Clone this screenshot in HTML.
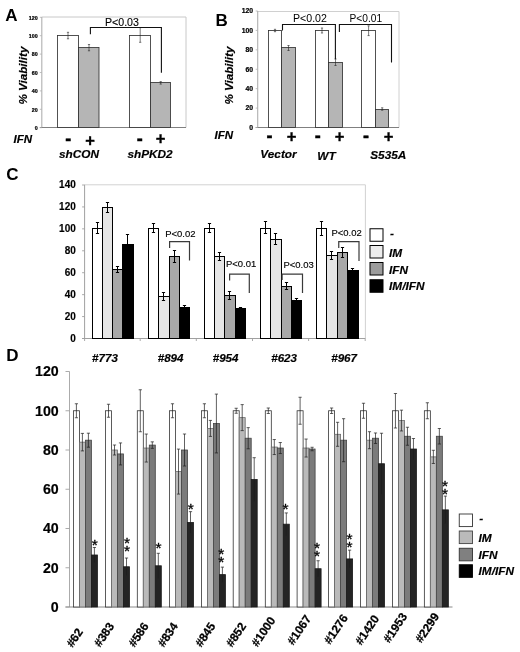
<!DOCTYPE html>
<html lang="en"><head><meta charset="utf-8"><title>Figure</title>
<style>html,body{margin:0;padding:0;background:#fff;}svg{display:block;filter:grayscale(1) blur(0.4px);}svg text{font-family:"Liberation Sans", Arial, Helvetica, sans-serif;}svg text[font-style="italic"]{stroke:#000;stroke-width:0.18px;}</style></head><body>
<svg width="520" height="652" viewBox="0 0 520 652">
<rect x="0" y="0" width="520" height="652" fill="#fff"/>
<polyline points="41.8,17 186,17 186,127.5" fill="none" stroke="#c8c8c8" stroke-width="1"/>
<line x1="41.8" y1="17" x2="41.8" y2="127.5" stroke="#b0b0b0" stroke-width="1.1"/>
<line x1="39.8" y1="127.5" x2="186" y2="127.5" stroke="#808080" stroke-width="1"/>
<line x1="39.8" y1="127.7" x2="41.8" y2="127.7" stroke="#b0b0b0" stroke-width="0.8"/>
<text x="37.6" y="129.9" font-size="5.3" font-weight="bold" font-style="normal" text-anchor="end" fill="#000" stroke="#000" stroke-width="0.22">0</text>
<line x1="39.8" y1="109.30000000000001" x2="41.8" y2="109.30000000000001" stroke="#b0b0b0" stroke-width="0.8"/>
<text x="37.6" y="111.50000000000001" font-size="5.3" font-weight="bold" font-style="normal" text-anchor="end" fill="#000" stroke="#000" stroke-width="0.22">20</text>
<line x1="39.8" y1="90.9" x2="41.8" y2="90.9" stroke="#b0b0b0" stroke-width="0.8"/>
<text x="37.6" y="93.10000000000001" font-size="5.3" font-weight="bold" font-style="normal" text-anchor="end" fill="#000" stroke="#000" stroke-width="0.22">40</text>
<line x1="39.8" y1="72.5" x2="41.8" y2="72.5" stroke="#b0b0b0" stroke-width="0.8"/>
<text x="37.6" y="74.7" font-size="5.3" font-weight="bold" font-style="normal" text-anchor="end" fill="#000" stroke="#000" stroke-width="0.22">60</text>
<line x1="39.8" y1="54.10000000000001" x2="41.8" y2="54.10000000000001" stroke="#b0b0b0" stroke-width="0.8"/>
<text x="37.6" y="56.30000000000001" font-size="5.3" font-weight="bold" font-style="normal" text-anchor="end" fill="#000" stroke="#000" stroke-width="0.22">80</text>
<line x1="39.8" y1="35.7" x2="41.8" y2="35.7" stroke="#b0b0b0" stroke-width="0.8"/>
<text x="37.6" y="37.900000000000006" font-size="5.3" font-weight="bold" font-style="normal" text-anchor="end" fill="#000" stroke="#000" stroke-width="0.22">100</text>
<line x1="39.8" y1="17.299999999999997" x2="41.8" y2="17.299999999999997" stroke="#b0b0b0" stroke-width="0.8"/>
<text x="37.6" y="19.499999999999996" font-size="5.3" font-weight="bold" font-style="normal" text-anchor="end" fill="#000" stroke="#000" stroke-width="0.22">120</text>
<rect x="57.50" y="35.50" width="21.00" height="92.00" fill="#fff" stroke="#333" stroke-width="0.85"/>
<rect x="78.50" y="47.50" width="20.50" height="80.00" fill="#b5b5b5" stroke="#333" stroke-width="0.85"/>
<rect x="129.50" y="35.50" width="21.00" height="92.00" fill="#fff" stroke="#333" stroke-width="0.85"/>
<rect x="150.50" y="82.50" width="20.00" height="45.00" fill="#b5b5b5" stroke="#333" stroke-width="0.85"/>
<line x1="68" y1="32.3" x2="68" y2="38.8" stroke="#222" stroke-width="0.6"/>
<line x1="66.9" y1="32.3" x2="69.1" y2="32.3" stroke="#222" stroke-width="0.6"/>
<line x1="66.9" y1="38.8" x2="69.1" y2="38.8" stroke="#222" stroke-width="0.6"/>
<line x1="89" y1="44.5" x2="89" y2="50.8" stroke="#222" stroke-width="0.6"/>
<line x1="87.9" y1="44.5" x2="90.1" y2="44.5" stroke="#222" stroke-width="0.6"/>
<line x1="87.9" y1="50.8" x2="90.1" y2="50.8" stroke="#222" stroke-width="0.6"/>
<line x1="140.2" y1="27.6" x2="140.2" y2="42.3" stroke="#222" stroke-width="0.6"/>
<line x1="139.1" y1="27.6" x2="141.29999999999998" y2="27.6" stroke="#222" stroke-width="0.6"/>
<line x1="139.1" y1="42.3" x2="141.29999999999998" y2="42.3" stroke="#222" stroke-width="0.6"/>
<line x1="160.7" y1="81.6" x2="160.7" y2="84.1" stroke="#222" stroke-width="0.6"/>
<line x1="159.6" y1="81.6" x2="161.79999999999998" y2="81.6" stroke="#222" stroke-width="0.6"/>
<line x1="159.6" y1="84.1" x2="161.79999999999998" y2="84.1" stroke="#222" stroke-width="0.6"/>
<polyline points="90.4,34.3 90.4,27.5 161.4,27.5 161.4,72.8" fill="none" stroke="#111" stroke-width="1.1"/>
<text x="105" y="25.9" font-size="10.6" font-weight="normal" font-style="normal" text-anchor="start" fill="#000" stroke="#000" stroke-width="0.12">P&lt;0.03</text>
<text transform="translate(26.9,75.5) rotate(-90)" font-size="11.7" font-weight="bold" font-style="italic" text-anchor="middle" stroke="#000" stroke-width="0.18">% Viability</text>
<text x="13.6" y="143" font-size="11.5" font-weight="bold" font-style="italic" text-anchor="start" fill="#000">IFN</text>
<text x="68.25" y="145.0" font-size="18" font-weight="bold" font-style="normal" text-anchor="middle" fill="#000" stroke="#000" stroke-width="0.45">-</text>
<text x="90" y="145.55" font-size="16.5" font-weight="bold" font-style="normal" text-anchor="middle" fill="#000" stroke="#000" stroke-width="0.35">+</text>
<text x="139.8" y="145.3" font-size="18" font-weight="bold" font-style="normal" text-anchor="middle" fill="#000" stroke="#000" stroke-width="0.45">-</text>
<text x="160.6" y="144.45" font-size="16.5" font-weight="bold" font-style="normal" text-anchor="middle" fill="#000" stroke="#000" stroke-width="0.35">+</text>
<text x="79" y="158" font-size="11.8" font-weight="bold" font-style="italic" text-anchor="middle" fill="#000">shCON</text>
<text x="150" y="158" font-size="11.8" font-weight="bold" font-style="italic" text-anchor="middle" fill="#000">shPKD2</text>
<text x="5.2" y="21.2" font-size="17" font-weight="bold" font-style="normal" text-anchor="start" fill="#000">A</text>
<polyline points="257.7,11.5 399,11.5 399,127.5" fill="none" stroke="#d0d0d0" stroke-width="1"/>
<line x1="257.7" y1="11" x2="257.7" y2="127.5" stroke="#b0b0b0" stroke-width="1.1"/>
<line x1="255.7" y1="127.5" x2="399" y2="127.5" stroke="#808080" stroke-width="1"/>
<line x1="255.7" y1="127.5" x2="257.7" y2="127.5" stroke="#b0b0b0" stroke-width="0.8"/>
<text x="253.0" y="129.9" font-size="6.8" font-weight="bold" font-style="normal" text-anchor="end" fill="#000" stroke="#000" stroke-width="0.22">0</text>
<line x1="255.7" y1="108.08333333333333" x2="257.7" y2="108.08333333333333" stroke="#b0b0b0" stroke-width="0.8"/>
<text x="253.0" y="110.48333333333333" font-size="6.8" font-weight="bold" font-style="normal" text-anchor="end" fill="#000" stroke="#000" stroke-width="0.22">20</text>
<line x1="255.7" y1="88.66666666666666" x2="257.7" y2="88.66666666666666" stroke="#b0b0b0" stroke-width="0.8"/>
<text x="253.0" y="91.06666666666666" font-size="6.8" font-weight="bold" font-style="normal" text-anchor="end" fill="#000" stroke="#000" stroke-width="0.22">40</text>
<line x1="255.7" y1="69.25" x2="257.7" y2="69.25" stroke="#b0b0b0" stroke-width="0.8"/>
<text x="253.0" y="71.65" font-size="6.8" font-weight="bold" font-style="normal" text-anchor="end" fill="#000" stroke="#000" stroke-width="0.22">60</text>
<line x1="255.7" y1="49.83333333333333" x2="257.7" y2="49.83333333333333" stroke="#b0b0b0" stroke-width="0.8"/>
<text x="253.0" y="52.23333333333333" font-size="6.8" font-weight="bold" font-style="normal" text-anchor="end" fill="#000" stroke="#000" stroke-width="0.22">80</text>
<line x1="255.7" y1="30.41666666666667" x2="257.7" y2="30.41666666666667" stroke="#b0b0b0" stroke-width="0.8"/>
<text x="253.0" y="32.81666666666667" font-size="6.8" font-weight="bold" font-style="normal" text-anchor="end" fill="#000" stroke="#000" stroke-width="0.22">100</text>
<line x1="255.7" y1="11.0" x2="257.7" y2="11.0" stroke="#b0b0b0" stroke-width="0.8"/>
<text x="253.0" y="13.4" font-size="6.8" font-weight="bold" font-style="normal" text-anchor="end" fill="#000" stroke="#000" stroke-width="0.22">120</text>
<rect x="268.50" y="30.50" width="13.00" height="97.00" fill="#fff" stroke="#333" stroke-width="0.85"/>
<rect x="281.50" y="47.50" width="14.00" height="80.00" fill="#b5b5b5" stroke="#333" stroke-width="0.85"/>
<rect x="315.50" y="30.50" width="13.00" height="97.00" fill="#fff" stroke="#333" stroke-width="0.85"/>
<rect x="328.50" y="62.50" width="14.00" height="65.00" fill="#b5b5b5" stroke="#333" stroke-width="0.85"/>
<rect x="361.50" y="30.50" width="14.00" height="97.00" fill="#fff" stroke="#333" stroke-width="0.85"/>
<rect x="375.50" y="109.50" width="13.00" height="18.00" fill="#b5b5b5" stroke="#333" stroke-width="0.85"/>
<line x1="275" y1="29.3" x2="275" y2="31.7" stroke="#222" stroke-width="0.6"/>
<line x1="273.9" y1="29.3" x2="276.1" y2="29.3" stroke="#222" stroke-width="0.6"/>
<line x1="273.9" y1="31.7" x2="276.1" y2="31.7" stroke="#222" stroke-width="0.6"/>
<line x1="288.5" y1="45.5" x2="288.5" y2="50.5" stroke="#222" stroke-width="0.6"/>
<line x1="287.4" y1="45.5" x2="289.6" y2="45.5" stroke="#222" stroke-width="0.6"/>
<line x1="287.4" y1="50.5" x2="289.6" y2="50.5" stroke="#222" stroke-width="0.6"/>
<line x1="322" y1="28" x2="322" y2="33" stroke="#222" stroke-width="0.6"/>
<line x1="320.9" y1="28" x2="323.1" y2="28" stroke="#222" stroke-width="0.6"/>
<line x1="320.9" y1="33" x2="323.1" y2="33" stroke="#222" stroke-width="0.6"/>
<line x1="335.5" y1="59" x2="335.5" y2="65.5" stroke="#222" stroke-width="0.6"/>
<line x1="334.4" y1="59" x2="336.6" y2="59" stroke="#222" stroke-width="0.6"/>
<line x1="334.4" y1="65.5" x2="336.6" y2="65.5" stroke="#222" stroke-width="0.6"/>
<line x1="368.6" y1="25.8" x2="368.6" y2="35.6" stroke="#222" stroke-width="0.6"/>
<line x1="367.5" y1="25.8" x2="369.70000000000005" y2="25.8" stroke="#222" stroke-width="0.6"/>
<line x1="367.5" y1="35.6" x2="369.70000000000005" y2="35.6" stroke="#222" stroke-width="0.6"/>
<line x1="382.2" y1="107.8" x2="382.2" y2="110.2" stroke="#222" stroke-width="0.6"/>
<line x1="381.09999999999997" y1="107.8" x2="383.3" y2="107.8" stroke="#222" stroke-width="0.6"/>
<line x1="381.09999999999997" y1="110.2" x2="383.3" y2="110.2" stroke="#222" stroke-width="0.6"/>
<polyline points="282.5,30.5 282.5,24.5 335.4,24.5 335.4,59" fill="none" stroke="#111" stroke-width="1.1"/>
<polyline points="339.4,32 339.4,24.5 391.5,24.5 391.5,62.5" fill="none" stroke="#111" stroke-width="1.1"/>
<text x="293" y="21.8" font-size="10.6" font-weight="normal" font-style="normal" text-anchor="start" fill="#000">P&lt;0.02</text>
<text x="349.5" y="21.8" font-size="10.6" font-weight="normal" font-style="normal" text-anchor="start" fill="#000" textLength="32.6" lengthAdjust="spacingAndGlyphs">P&lt;0.01</text>
<text transform="translate(232.9,75.5) rotate(-90)" font-size="11.7" font-weight="bold" font-style="italic" text-anchor="middle" stroke="#000" stroke-width="0.18">% Viability</text>
<text x="214.6" y="139" font-size="11.5" font-weight="bold" font-style="italic" text-anchor="start" fill="#000">IFN</text>
<text x="269.6" y="141.5" font-size="18" font-weight="bold" font-style="normal" text-anchor="middle" fill="#000" stroke="#000" stroke-width="0.45">-</text>
<text x="317.8" y="141.5" font-size="18" font-weight="bold" font-style="normal" text-anchor="middle" fill="#000" stroke="#000" stroke-width="0.45">-</text>
<text x="366" y="141.5" font-size="18" font-weight="bold" font-style="normal" text-anchor="middle" fill="#000" stroke="#000" stroke-width="0.45">-</text>
<text x="291.5" y="141.55" font-size="16.5" font-weight="bold" font-style="normal" text-anchor="middle" fill="#000" stroke="#000" stroke-width="0.35">+</text>
<text x="339.5" y="141.55" font-size="16.5" font-weight="bold" font-style="normal" text-anchor="middle" fill="#000" stroke="#000" stroke-width="0.35">+</text>
<text x="388.5" y="141.55" font-size="16.5" font-weight="bold" font-style="normal" text-anchor="middle" fill="#000" stroke="#000" stroke-width="0.35">+</text>
<text x="278.5" y="158" font-size="11.8" font-weight="bold" font-style="italic" text-anchor="middle" fill="#000">Vector</text>
<text x="326.5" y="160.2" font-size="11.8" font-weight="bold" font-style="italic" text-anchor="middle" fill="#000">WT</text>
<text x="388.3" y="159" font-size="11.8" font-weight="bold" font-style="italic" text-anchor="middle" fill="#000">S535A</text>
<text x="215.6" y="25.6" font-size="17" font-weight="bold" font-style="normal" text-anchor="start" fill="#000">B</text>
<polyline points="84.6,184.8 365.4,184.8 365.4,338.5" fill="none" stroke="#d2d2d2" stroke-width="1"/>
<line x1="84.6" y1="184.8" x2="84.6" y2="338.5" stroke="#a0a0a0" stroke-width="1"/>
<line x1="82.1" y1="338.5" x2="365.4" y2="338.5" stroke="#a0a0a0" stroke-width="1"/>
<line x1="84.6" y1="338.5" x2="84.6" y2="341.0" stroke="#a0a0a0" stroke-width="0.9"/>
<line x1="140.2" y1="338.5" x2="140.2" y2="341.0" stroke="#a0a0a0" stroke-width="0.9"/>
<line x1="196.3" y1="338.5" x2="196.3" y2="341.0" stroke="#a0a0a0" stroke-width="0.9"/>
<line x1="252.5" y1="338.5" x2="252.5" y2="341.0" stroke="#a0a0a0" stroke-width="0.9"/>
<line x1="308.6" y1="338.5" x2="308.6" y2="341.0" stroke="#a0a0a0" stroke-width="0.9"/>
<line x1="365.2" y1="338.5" x2="365.2" y2="341.0" stroke="#a0a0a0" stroke-width="0.9"/>
<line x1="82.1" y1="338.5" x2="84.6" y2="338.5" stroke="#a0a0a0" stroke-width="0.9"/>
<text x="75.8" y="341.6" font-size="10" font-weight="bold" font-style="normal" text-anchor="end" fill="#000" stroke="#000" stroke-width="0.15">0</text>
<line x1="82.1" y1="316.57142857142856" x2="84.6" y2="316.57142857142856" stroke="#a0a0a0" stroke-width="0.9"/>
<text x="75.8" y="319.6714285714286" font-size="10" font-weight="bold" font-style="normal" text-anchor="end" fill="#000" stroke="#000" stroke-width="0.15">20</text>
<line x1="82.1" y1="294.64285714285717" x2="84.6" y2="294.64285714285717" stroke="#a0a0a0" stroke-width="0.9"/>
<text x="75.8" y="297.7428571428572" font-size="10" font-weight="bold" font-style="normal" text-anchor="end" fill="#000" stroke="#000" stroke-width="0.15">40</text>
<line x1="82.1" y1="272.7142857142857" x2="84.6" y2="272.7142857142857" stroke="#a0a0a0" stroke-width="0.9"/>
<text x="75.8" y="275.81428571428575" font-size="10" font-weight="bold" font-style="normal" text-anchor="end" fill="#000" stroke="#000" stroke-width="0.15">60</text>
<line x1="82.1" y1="250.78571428571428" x2="84.6" y2="250.78571428571428" stroke="#a0a0a0" stroke-width="0.9"/>
<text x="75.8" y="253.88571428571427" font-size="10" font-weight="bold" font-style="normal" text-anchor="end" fill="#000" stroke="#000" stroke-width="0.15">80</text>
<line x1="82.1" y1="228.85714285714286" x2="84.6" y2="228.85714285714286" stroke="#a0a0a0" stroke-width="0.9"/>
<text x="75.8" y="231.95714285714286" font-size="10" font-weight="bold" font-style="normal" text-anchor="end" fill="#000" stroke="#000" stroke-width="0.15">100</text>
<line x1="82.1" y1="206.92857142857142" x2="84.6" y2="206.92857142857142" stroke="#a0a0a0" stroke-width="0.9"/>
<text x="75.8" y="210.0285714285714" font-size="10" font-weight="bold" font-style="normal" text-anchor="end" fill="#000" stroke="#000" stroke-width="0.15">120</text>
<line x1="82.1" y1="185.0" x2="84.6" y2="185.0" stroke="#a0a0a0" stroke-width="0.9"/>
<text x="75.8" y="188.1" font-size="10" font-weight="bold" font-style="normal" text-anchor="end" fill="#000" stroke="#000" stroke-width="0.15">140</text>
<rect x="92.50" y="228.50" width="10.00" height="110.00" fill="#fff" stroke="#000" stroke-width="1.0"/>
<rect x="102.50" y="207.50" width="10.00" height="131.00" fill="#e6e6e6" stroke="#000" stroke-width="1.0"/>
<rect x="112.50" y="269.50" width="10.00" height="69.00" fill="#a8a8a8" stroke="#000" stroke-width="1.0"/>
<rect x="122.50" y="244.50" width="11.00" height="94.00" fill="#000" stroke="#000" stroke-width="1.0"/>
<line x1="97.5" y1="223.0" x2="97.5" y2="234.0" stroke="#000" stroke-width="1.0"/>
<line x1="95.9" y1="222.5" x2="99.1" y2="222.5" stroke="#000" stroke-width="1.0"/>
<line x1="95.9" y1="233.5" x2="99.1" y2="233.5" stroke="#000" stroke-width="1.0"/>
<line x1="107.5" y1="202.5" x2="107.5" y2="212.5" stroke="#000" stroke-width="1.0"/>
<line x1="105.9" y1="202.5" x2="109.1" y2="202.5" stroke="#000" stroke-width="1.0"/>
<line x1="105.9" y1="212.5" x2="109.1" y2="212.5" stroke="#000" stroke-width="1.0"/>
<line x1="117.5" y1="266.5" x2="117.5" y2="272.5" stroke="#000" stroke-width="1.0"/>
<line x1="115.9" y1="266.5" x2="119.1" y2="266.5" stroke="#000" stroke-width="1.0"/>
<line x1="115.9" y1="272.5" x2="119.1" y2="272.5" stroke="#000" stroke-width="1.0"/>
<line x1="127.5" y1="235.0" x2="127.5" y2="244.5" stroke="#000" stroke-width="1.0"/>
<line x1="125.9" y1="234.5" x2="129.1" y2="234.5" stroke="#000" stroke-width="1.0"/>
<rect x="148.50" y="228.50" width="10.00" height="110.00" fill="#fff" stroke="#000" stroke-width="1.0"/>
<rect x="158.50" y="296.50" width="11.00" height="42.00" fill="#e6e6e6" stroke="#000" stroke-width="1.0"/>
<rect x="169.50" y="256.50" width="10.00" height="82.00" fill="#a8a8a8" stroke="#000" stroke-width="1.0"/>
<rect x="179.50" y="307.50" width="10.00" height="31.00" fill="#000" stroke="#000" stroke-width="1.0"/>
<line x1="153.5" y1="224.0" x2="153.5" y2="233.0" stroke="#000" stroke-width="1.0"/>
<line x1="151.9" y1="223.5" x2="155.1" y2="223.5" stroke="#000" stroke-width="1.0"/>
<line x1="151.9" y1="232.5" x2="155.1" y2="232.5" stroke="#000" stroke-width="1.0"/>
<line x1="163.5" y1="292.8" x2="163.5" y2="300.5" stroke="#000" stroke-width="1.0"/>
<line x1="161.9" y1="292.5" x2="165.1" y2="292.5" stroke="#000" stroke-width="1.0"/>
<line x1="161.9" y1="300.5" x2="165.1" y2="300.5" stroke="#000" stroke-width="1.0"/>
<line x1="174.5" y1="250.5" x2="174.5" y2="262.5" stroke="#000" stroke-width="1.0"/>
<line x1="172.9" y1="250.5" x2="176.1" y2="250.5" stroke="#000" stroke-width="1.0"/>
<line x1="172.9" y1="262.5" x2="176.1" y2="262.5" stroke="#000" stroke-width="1.0"/>
<line x1="184.5" y1="306.0" x2="184.5" y2="307.5" stroke="#000" stroke-width="1.0"/>
<line x1="182.9" y1="305.5" x2="186.1" y2="305.5" stroke="#000" stroke-width="1.0"/>
<rect x="204.50" y="228.50" width="10.00" height="110.00" fill="#fff" stroke="#000" stroke-width="1.0"/>
<rect x="214.50" y="256.50" width="10.00" height="82.00" fill="#e6e6e6" stroke="#000" stroke-width="1.0"/>
<rect x="224.50" y="295.50" width="11.00" height="43.00" fill="#a8a8a8" stroke="#000" stroke-width="1.0"/>
<rect x="235.50" y="308.50" width="10.00" height="30.00" fill="#000" stroke="#000" stroke-width="1.0"/>
<line x1="209.5" y1="224.0" x2="209.5" y2="233.0" stroke="#000" stroke-width="1.0"/>
<line x1="207.9" y1="223.5" x2="211.1" y2="223.5" stroke="#000" stroke-width="1.0"/>
<line x1="207.9" y1="232.5" x2="211.1" y2="232.5" stroke="#000" stroke-width="1.0"/>
<line x1="219.5" y1="252.8" x2="219.5" y2="260.8" stroke="#000" stroke-width="1.0"/>
<line x1="217.9" y1="252.5" x2="221.1" y2="252.5" stroke="#000" stroke-width="1.0"/>
<line x1="217.9" y1="260.5" x2="221.1" y2="260.5" stroke="#000" stroke-width="1.0"/>
<line x1="229.5" y1="291.2" x2="229.5" y2="299.5" stroke="#000" stroke-width="1.0"/>
<line x1="227.9" y1="291.5" x2="231.1" y2="291.5" stroke="#000" stroke-width="1.0"/>
<line x1="227.9" y1="299.5" x2="231.1" y2="299.5" stroke="#000" stroke-width="1.0"/>
<line x1="240.5" y1="307.5" x2="240.5" y2="308.5" stroke="#000" stroke-width="1.0"/>
<line x1="238.9" y1="307.5" x2="242.1" y2="307.5" stroke="#000" stroke-width="1.0"/>
<rect x="260.50" y="228.50" width="10.00" height="110.00" fill="#fff" stroke="#000" stroke-width="1.0"/>
<rect x="270.50" y="239.50" width="11.00" height="99.00" fill="#e6e6e6" stroke="#000" stroke-width="1.0"/>
<rect x="281.50" y="286.50" width="10.00" height="52.00" fill="#a8a8a8" stroke="#000" stroke-width="1.0"/>
<rect x="291.50" y="300.50" width="10.00" height="38.00" fill="#000" stroke="#000" stroke-width="1.0"/>
<line x1="265.5" y1="222.0" x2="265.5" y2="234.0" stroke="#000" stroke-width="1.0"/>
<line x1="263.9" y1="221.5" x2="267.1" y2="221.5" stroke="#000" stroke-width="1.0"/>
<line x1="263.9" y1="233.5" x2="267.1" y2="233.5" stroke="#000" stroke-width="1.0"/>
<line x1="275.5" y1="234.0" x2="275.5" y2="244.5" stroke="#000" stroke-width="1.0"/>
<line x1="273.9" y1="233.5" x2="277.1" y2="233.5" stroke="#000" stroke-width="1.0"/>
<line x1="273.9" y1="244.5" x2="277.1" y2="244.5" stroke="#000" stroke-width="1.0"/>
<line x1="286.5" y1="283.0" x2="286.5" y2="290.0" stroke="#000" stroke-width="1.0"/>
<line x1="284.9" y1="282.5" x2="288.1" y2="282.5" stroke="#000" stroke-width="1.0"/>
<line x1="284.9" y1="289.5" x2="288.1" y2="289.5" stroke="#000" stroke-width="1.0"/>
<line x1="296.5" y1="299.0" x2="296.5" y2="300.5" stroke="#000" stroke-width="1.0"/>
<line x1="294.9" y1="298.5" x2="298.1" y2="298.5" stroke="#000" stroke-width="1.0"/>
<rect x="316.50" y="228.50" width="10.00" height="110.00" fill="#fff" stroke="#000" stroke-width="1.0"/>
<rect x="326.50" y="255.50" width="11.00" height="83.00" fill="#e6e6e6" stroke="#000" stroke-width="1.0"/>
<rect x="337.50" y="252.50" width="10.00" height="86.00" fill="#a8a8a8" stroke="#000" stroke-width="1.0"/>
<rect x="347.50" y="270.50" width="11.00" height="68.00" fill="#000" stroke="#000" stroke-width="1.0"/>
<line x1="321.5" y1="221.5" x2="321.5" y2="235.5" stroke="#000" stroke-width="1.0"/>
<line x1="319.9" y1="221.5" x2="323.1" y2="221.5" stroke="#000" stroke-width="1.0"/>
<line x1="319.9" y1="235.5" x2="323.1" y2="235.5" stroke="#000" stroke-width="1.0"/>
<line x1="331.5" y1="252.0" x2="331.5" y2="259.5" stroke="#000" stroke-width="1.0"/>
<line x1="329.9" y1="251.5" x2="333.1" y2="251.5" stroke="#000" stroke-width="1.0"/>
<line x1="329.9" y1="259.5" x2="333.1" y2="259.5" stroke="#000" stroke-width="1.0"/>
<line x1="342.5" y1="247.5" x2="342.5" y2="257.5" stroke="#000" stroke-width="1.0"/>
<line x1="340.9" y1="247.5" x2="344.1" y2="247.5" stroke="#000" stroke-width="1.0"/>
<line x1="340.9" y1="257.5" x2="344.1" y2="257.5" stroke="#000" stroke-width="1.0"/>
<line x1="352.5" y1="268.3" x2="352.5" y2="270.5" stroke="#000" stroke-width="1.0"/>
<line x1="350.9" y1="268.5" x2="354.1" y2="268.5" stroke="#000" stroke-width="1.0"/>
<polyline points="169.6,248 169.6,241.6 189.5,241.6 189.5,260.5" fill="none" stroke="#3a3a3a" stroke-width="1.2"/>
<polyline points="229.6,280.5 229.6,274.2 249.3,274.2 249.3,293" fill="none" stroke="#3a3a3a" stroke-width="1.2"/>
<polyline points="282.1,280 282.1,274.2 302.5,274.2 302.5,293" fill="none" stroke="#3a3a3a" stroke-width="1.2"/>
<polyline points="338.75,248 338.75,241.6 359,241.6 359,261" fill="none" stroke="#3a3a3a" stroke-width="1.2"/>
<text x="165.3" y="237.3" font-size="9.7" font-weight="normal" font-style="normal" text-anchor="start" fill="#000" textLength="30.2" lengthAdjust="spacingAndGlyphs" stroke="#000" stroke-width="0.15">P&lt;0.02</text>
<text x="226" y="267.3" font-size="9.7" font-weight="normal" font-style="normal" text-anchor="start" fill="#000" textLength="30.2" lengthAdjust="spacingAndGlyphs" stroke="#000" stroke-width="0.15">P&lt;0.01</text>
<text x="283.5" y="268" font-size="9.7" font-weight="normal" font-style="normal" text-anchor="start" fill="#000" textLength="30.2" lengthAdjust="spacingAndGlyphs" stroke="#000" stroke-width="0.15">P&lt;0.03</text>
<text x="331.5" y="236" font-size="9.7" font-weight="normal" font-style="normal" text-anchor="start" fill="#000" textLength="30.2" lengthAdjust="spacingAndGlyphs" stroke="#000" stroke-width="0.15">P&lt;0.02</text>
<text x="105" y="361.6" font-size="11.6" font-weight="bold" font-style="italic" text-anchor="middle" fill="#000">#773</text>
<text x="170.6" y="361.6" font-size="11.6" font-weight="bold" font-style="italic" text-anchor="middle" fill="#000">#894</text>
<text x="225.6" y="361.6" font-size="11.6" font-weight="bold" font-style="italic" text-anchor="middle" fill="#000">#954</text>
<text x="284.1" y="361.6" font-size="11.6" font-weight="bold" font-style="italic" text-anchor="middle" fill="#000">#623</text>
<text x="344.1" y="361.6" font-size="11.6" font-weight="bold" font-style="italic" text-anchor="middle" fill="#000">#967</text>
<rect x="370.00" y="228.75" width="13.00" height="12.50" fill="#fff" stroke="#000" stroke-width="1"/>
<rect x="370.00" y="245.50" width="13.00" height="12.50" fill="#ececec" stroke="#000" stroke-width="1"/>
<rect x="370.00" y="262.50" width="13.00" height="12.50" fill="#9c9c9c" stroke="#000" stroke-width="1"/>
<rect x="370.00" y="279.75" width="13.00" height="12.50" fill="#000" stroke="#000" stroke-width="1"/>
<text x="389.9" y="237.3" font-size="11.8" font-weight="bold" font-style="italic" text-anchor="start" fill="#000">-</text>
<text x="389.1" y="256.8" font-size="11.8" font-weight="bold" font-style="italic" text-anchor="start" fill="#000">IM</text>
<text x="389.1" y="274.3" font-size="11.8" font-weight="bold" font-style="italic" text-anchor="start" fill="#000">IFN</text>
<text x="389.1" y="289.8" font-size="11.8" font-weight="bold" font-style="italic" text-anchor="start" fill="#000">IM/IFN</text>
<text x="6.2" y="180.2" font-size="17" font-weight="bold" font-style="normal" text-anchor="start" fill="#000">C</text>
<line x1="69.5" y1="371.5" x2="69.5" y2="607" stroke="#a2a2a2" stroke-width="0.9"/>
<line x1="65.5" y1="607" x2="452.5" y2="607" stroke="#8a8a8a" stroke-width="1"/>
<line x1="65.5" y1="607.0" x2="69.5" y2="607.0" stroke="#a2a2a2" stroke-width="0.9"/>
<text x="58.7" y="611.9" font-size="14.2" font-weight="bold" font-style="normal" text-anchor="end" fill="#000" stroke="#000" stroke-width="0.2">0</text>
<line x1="65.5" y1="567.75" x2="69.5" y2="567.75" stroke="#a2a2a2" stroke-width="0.9"/>
<text x="58.7" y="572.65" font-size="14.2" font-weight="bold" font-style="normal" text-anchor="end" fill="#000" stroke="#000" stroke-width="0.2">20</text>
<line x1="65.5" y1="528.5" x2="69.5" y2="528.5" stroke="#a2a2a2" stroke-width="0.9"/>
<text x="58.7" y="533.4" font-size="14.2" font-weight="bold" font-style="normal" text-anchor="end" fill="#000" stroke="#000" stroke-width="0.2">40</text>
<line x1="65.5" y1="489.25" x2="69.5" y2="489.25" stroke="#a2a2a2" stroke-width="0.9"/>
<text x="58.7" y="494.15" font-size="14.2" font-weight="bold" font-style="normal" text-anchor="end" fill="#000" stroke="#000" stroke-width="0.2">60</text>
<line x1="65.5" y1="450.0" x2="69.5" y2="450.0" stroke="#a2a2a2" stroke-width="0.9"/>
<text x="58.7" y="454.9" font-size="14.2" font-weight="bold" font-style="normal" text-anchor="end" fill="#000" stroke="#000" stroke-width="0.2">80</text>
<line x1="65.5" y1="410.75" x2="69.5" y2="410.75" stroke="#a2a2a2" stroke-width="0.9"/>
<text x="58.7" y="415.65" font-size="14.2" font-weight="bold" font-style="normal" text-anchor="end" fill="#000" stroke="#000" stroke-width="0.2">100</text>
<line x1="65.5" y1="371.5" x2="69.5" y2="371.5" stroke="#a2a2a2" stroke-width="0.9"/>
<text x="58.7" y="376.4" font-size="14.2" font-weight="bold" font-style="normal" text-anchor="end" fill="#000" stroke="#000" stroke-width="0.2">120</text>
<rect x="73.40" y="410.75" width="6.00" height="196.25" fill="#fff" stroke="#333" stroke-width="0.8"/>
<rect x="79.40" y="442.15" width="6.00" height="164.85" fill="#bababa" stroke="#6a6a6a" stroke-width="0.8"/>
<rect x="85.40" y="440.19" width="6.00" height="166.81" fill="#7b7b7b" stroke="#444" stroke-width="0.8"/>
<rect x="91.40" y="554.99" width="6.00" height="52.01" fill="#242424" stroke="#1a1a1a" stroke-width="0.8"/>
<line x1="76.4" y1="403.75" x2="76.4" y2="417.75" stroke="#1c1c1c" stroke-width="0.7"/>
<line x1="74.80000000000001" y1="403.75" x2="78.0" y2="403.75" stroke="#1c1c1c" stroke-width="0.7"/>
<line x1="74.80000000000001" y1="417.75" x2="78.0" y2="417.75" stroke="#1c1c1c" stroke-width="0.7"/>
<line x1="82.4" y1="433.4" x2="82.4" y2="450.9" stroke="#1c1c1c" stroke-width="0.7"/>
<line x1="80.80000000000001" y1="433.4" x2="84.0" y2="433.4" stroke="#1c1c1c" stroke-width="0.7"/>
<line x1="80.80000000000001" y1="450.9" x2="84.0" y2="450.9" stroke="#1c1c1c" stroke-width="0.7"/>
<line x1="88.4" y1="433.1875" x2="88.4" y2="447.1875" stroke="#1c1c1c" stroke-width="0.7"/>
<line x1="86.80000000000001" y1="433.1875" x2="90.0" y2="433.1875" stroke="#1c1c1c" stroke-width="0.7"/>
<line x1="86.80000000000001" y1="447.1875" x2="90.0" y2="447.1875" stroke="#1c1c1c" stroke-width="0.7"/>
<line x1="94.4" y1="547.49375" x2="94.4" y2="562.49375" stroke="#1c1c1c" stroke-width="0.7"/>
<line x1="92.80000000000001" y1="547.49375" x2="96.0" y2="547.49375" stroke="#1c1c1c" stroke-width="0.7"/>
<text x="94.75" y="549.6" font-size="15.5" font-weight="normal" font-style="normal" text-anchor="middle" fill="#000" stroke="#000" stroke-width="0.3">*</text>
<rect x="105.50" y="410.75" width="6.00" height="196.25" fill="#fff" stroke="#333" stroke-width="0.8"/>
<rect x="111.50" y="450.00" width="6.00" height="157.00" fill="#bababa" stroke="#6a6a6a" stroke-width="0.8"/>
<rect x="117.50" y="453.93" width="6.00" height="153.07" fill="#7b7b7b" stroke="#444" stroke-width="0.8"/>
<rect x="123.50" y="566.77" width="6.00" height="40.23" fill="#242424" stroke="#1a1a1a" stroke-width="0.8"/>
<line x1="108.5" y1="404.25" x2="108.5" y2="417.25" stroke="#1c1c1c" stroke-width="0.7"/>
<line x1="106.9" y1="404.25" x2="110.1" y2="404.25" stroke="#1c1c1c" stroke-width="0.7"/>
<line x1="106.9" y1="417.25" x2="110.1" y2="417.25" stroke="#1c1c1c" stroke-width="0.7"/>
<line x1="114.5" y1="445.0" x2="114.5" y2="455.0" stroke="#1c1c1c" stroke-width="0.7"/>
<line x1="112.9" y1="445.0" x2="116.1" y2="445.0" stroke="#1c1c1c" stroke-width="0.7"/>
<line x1="112.9" y1="455.0" x2="116.1" y2="455.0" stroke="#1c1c1c" stroke-width="0.7"/>
<line x1="120.5" y1="442.925" x2="120.5" y2="464.925" stroke="#1c1c1c" stroke-width="0.7"/>
<line x1="118.9" y1="442.925" x2="122.1" y2="442.925" stroke="#1c1c1c" stroke-width="0.7"/>
<line x1="118.9" y1="464.925" x2="122.1" y2="464.925" stroke="#1c1c1c" stroke-width="0.7"/>
<line x1="126.5" y1="558.01875" x2="126.5" y2="575.51875" stroke="#1c1c1c" stroke-width="0.7"/>
<line x1="124.9" y1="558.01875" x2="128.1" y2="558.01875" stroke="#1c1c1c" stroke-width="0.7"/>
<text x="127" y="548.0" font-size="15.5" font-weight="normal" font-style="normal" text-anchor="middle" fill="#000" stroke="#000" stroke-width="0.3">*</text>
<text x="127" y="556.0" font-size="15.5" font-weight="normal" font-style="normal" text-anchor="middle" fill="#000" stroke="#000" stroke-width="0.3">*</text>
<rect x="137.30" y="410.75" width="6.00" height="196.25" fill="#fff" stroke="#333" stroke-width="0.8"/>
<rect x="143.30" y="448.04" width="6.00" height="158.96" fill="#bababa" stroke="#6a6a6a" stroke-width="0.8"/>
<rect x="149.30" y="445.09" width="6.00" height="161.91" fill="#7b7b7b" stroke="#444" stroke-width="0.8"/>
<rect x="155.30" y="565.79" width="6.00" height="41.21" fill="#242424" stroke="#1a1a1a" stroke-width="0.8"/>
<line x1="140.3" y1="389.75" x2="140.3" y2="431.75" stroke="#1c1c1c" stroke-width="0.7"/>
<line x1="138.70000000000002" y1="389.75" x2="141.9" y2="389.75" stroke="#1c1c1c" stroke-width="0.7"/>
<line x1="138.70000000000002" y1="431.75" x2="141.9" y2="431.75" stroke="#1c1c1c" stroke-width="0.7"/>
<line x1="146.3" y1="434.0375" x2="146.3" y2="462.0375" stroke="#1c1c1c" stroke-width="0.7"/>
<line x1="144.70000000000002" y1="434.0375" x2="147.9" y2="434.0375" stroke="#1c1c1c" stroke-width="0.7"/>
<line x1="144.70000000000002" y1="462.0375" x2="147.9" y2="462.0375" stroke="#1c1c1c" stroke-width="0.7"/>
<line x1="152.3" y1="441.84375" x2="152.3" y2="448.34375" stroke="#1c1c1c" stroke-width="0.7"/>
<line x1="150.70000000000002" y1="441.84375" x2="153.9" y2="441.84375" stroke="#1c1c1c" stroke-width="0.7"/>
<line x1="150.70000000000002" y1="448.34375" x2="153.9" y2="448.34375" stroke="#1c1c1c" stroke-width="0.7"/>
<line x1="158.3" y1="553.2875" x2="158.3" y2="578.2875" stroke="#1c1c1c" stroke-width="0.7"/>
<line x1="156.70000000000002" y1="553.2875" x2="159.9" y2="553.2875" stroke="#1c1c1c" stroke-width="0.7"/>
<text x="158.5" y="553.05" font-size="15.5" font-weight="normal" font-style="normal" text-anchor="middle" fill="#000" stroke="#000" stroke-width="0.3">*</text>
<rect x="169.50" y="410.75" width="6.00" height="196.25" fill="#fff" stroke="#333" stroke-width="0.8"/>
<rect x="175.50" y="471.59" width="6.00" height="135.41" fill="#bababa" stroke="#6a6a6a" stroke-width="0.8"/>
<rect x="181.50" y="450.00" width="6.00" height="157.00" fill="#7b7b7b" stroke="#444" stroke-width="0.8"/>
<rect x="187.50" y="522.42" width="6.00" height="84.58" fill="#242424" stroke="#1a1a1a" stroke-width="0.8"/>
<line x1="172.5" y1="403.75" x2="172.5" y2="417.75" stroke="#1c1c1c" stroke-width="0.7"/>
<line x1="170.9" y1="403.75" x2="174.1" y2="403.75" stroke="#1c1c1c" stroke-width="0.7"/>
<line x1="170.9" y1="417.75" x2="174.1" y2="417.75" stroke="#1c1c1c" stroke-width="0.7"/>
<line x1="178.5" y1="449.0875" x2="178.5" y2="494.0875" stroke="#1c1c1c" stroke-width="0.7"/>
<line x1="176.9" y1="449.0875" x2="180.1" y2="449.0875" stroke="#1c1c1c" stroke-width="0.7"/>
<line x1="176.9" y1="494.0875" x2="180.1" y2="494.0875" stroke="#1c1c1c" stroke-width="0.7"/>
<line x1="184.5" y1="434.0" x2="184.5" y2="466.0" stroke="#1c1c1c" stroke-width="0.7"/>
<line x1="182.9" y1="434.0" x2="186.1" y2="434.0" stroke="#1c1c1c" stroke-width="0.7"/>
<line x1="182.9" y1="466.0" x2="186.1" y2="466.0" stroke="#1c1c1c" stroke-width="0.7"/>
<line x1="190.5" y1="511.66625" x2="190.5" y2="533.16625" stroke="#1c1c1c" stroke-width="0.7"/>
<line x1="188.9" y1="511.66625" x2="192.1" y2="511.66625" stroke="#1c1c1c" stroke-width="0.7"/>
<text x="190.8" y="513.75" font-size="15.5" font-weight="normal" font-style="normal" text-anchor="middle" fill="#000" stroke="#000" stroke-width="0.3">*</text>
<rect x="201.40" y="410.75" width="6.00" height="196.25" fill="#fff" stroke="#333" stroke-width="0.8"/>
<rect x="207.40" y="428.41" width="6.00" height="178.59" fill="#bababa" stroke="#6a6a6a" stroke-width="0.8"/>
<rect x="213.40" y="423.51" width="6.00" height="183.49" fill="#7b7b7b" stroke="#444" stroke-width="0.8"/>
<rect x="219.40" y="574.62" width="6.00" height="32.38" fill="#242424" stroke="#1a1a1a" stroke-width="0.8"/>
<line x1="204.4" y1="403.75" x2="204.4" y2="417.75" stroke="#1c1c1c" stroke-width="0.7"/>
<line x1="202.8" y1="403.75" x2="206.0" y2="403.75" stroke="#1c1c1c" stroke-width="0.7"/>
<line x1="202.8" y1="417.75" x2="206.0" y2="417.75" stroke="#1c1c1c" stroke-width="0.7"/>
<line x1="210.4" y1="420.4125" x2="210.4" y2="436.4125" stroke="#1c1c1c" stroke-width="0.7"/>
<line x1="208.8" y1="420.4125" x2="212.0" y2="420.4125" stroke="#1c1c1c" stroke-width="0.7"/>
<line x1="208.8" y1="436.4125" x2="212.0" y2="436.4125" stroke="#1c1c1c" stroke-width="0.7"/>
<line x1="216.4" y1="394.10625000000005" x2="216.4" y2="452.90625" stroke="#1c1c1c" stroke-width="0.7"/>
<line x1="214.8" y1="394.10625000000005" x2="218.0" y2="394.10625000000005" stroke="#1c1c1c" stroke-width="0.7"/>
<line x1="214.8" y1="452.90625" x2="218.0" y2="452.90625" stroke="#1c1c1c" stroke-width="0.7"/>
<line x1="222.4" y1="567.11875" x2="222.4" y2="582.11875" stroke="#1c1c1c" stroke-width="0.7"/>
<line x1="220.8" y1="567.11875" x2="224.0" y2="567.11875" stroke="#1c1c1c" stroke-width="0.7"/>
<text x="221.2" y="559.15" font-size="15.5" font-weight="normal" font-style="normal" text-anchor="middle" fill="#000" stroke="#000" stroke-width="0.3">*</text>
<text x="221.2" y="567.05" font-size="15.5" font-weight="normal" font-style="normal" text-anchor="middle" fill="#000" stroke="#000" stroke-width="0.3">*</text>
<rect x="233.20" y="410.75" width="6.00" height="196.25" fill="#fff" stroke="#333" stroke-width="0.8"/>
<rect x="239.20" y="417.62" width="6.00" height="189.38" fill="#bababa" stroke="#6a6a6a" stroke-width="0.8"/>
<rect x="245.20" y="438.23" width="6.00" height="168.77" fill="#7b7b7b" stroke="#444" stroke-width="0.8"/>
<rect x="251.20" y="479.44" width="6.00" height="127.56" fill="#242424" stroke="#1a1a1a" stroke-width="0.8"/>
<line x1="236.2" y1="408.25" x2="236.2" y2="413.25" stroke="#1c1c1c" stroke-width="0.7"/>
<line x1="234.6" y1="408.25" x2="237.79999999999998" y2="408.25" stroke="#1c1c1c" stroke-width="0.7"/>
<line x1="234.6" y1="413.25" x2="237.79999999999998" y2="413.25" stroke="#1c1c1c" stroke-width="0.7"/>
<line x1="242.2" y1="404.61875" x2="242.2" y2="430.61875" stroke="#1c1c1c" stroke-width="0.7"/>
<line x1="240.6" y1="404.61875" x2="243.79999999999998" y2="404.61875" stroke="#1c1c1c" stroke-width="0.7"/>
<line x1="240.6" y1="430.61875" x2="243.79999999999998" y2="430.61875" stroke="#1c1c1c" stroke-width="0.7"/>
<line x1="248.2" y1="427.625" x2="248.2" y2="448.82500000000005" stroke="#1c1c1c" stroke-width="0.7"/>
<line x1="246.6" y1="427.625" x2="249.79999999999998" y2="427.625" stroke="#1c1c1c" stroke-width="0.7"/>
<line x1="246.6" y1="448.82500000000005" x2="249.79999999999998" y2="448.82500000000005" stroke="#1c1c1c" stroke-width="0.7"/>
<line x1="254.2" y1="457.6875" x2="254.2" y2="501.1875" stroke="#1c1c1c" stroke-width="0.7"/>
<line x1="252.6" y1="457.6875" x2="255.79999999999998" y2="457.6875" stroke="#1c1c1c" stroke-width="0.7"/>
<rect x="265.30" y="410.75" width="6.00" height="196.25" fill="#fff" stroke="#333" stroke-width="0.8"/>
<rect x="271.30" y="447.06" width="6.00" height="159.94" fill="#bababa" stroke="#6a6a6a" stroke-width="0.8"/>
<rect x="277.30" y="448.04" width="6.00" height="158.96" fill="#7b7b7b" stroke="#444" stroke-width="0.8"/>
<rect x="283.30" y="524.18" width="6.00" height="82.82" fill="#242424" stroke="#1a1a1a" stroke-width="0.8"/>
<line x1="268.3" y1="408.0" x2="268.3" y2="413.5" stroke="#1c1c1c" stroke-width="0.7"/>
<line x1="266.7" y1="408.0" x2="269.90000000000003" y2="408.0" stroke="#1c1c1c" stroke-width="0.7"/>
<line x1="266.7" y1="413.5" x2="269.90000000000003" y2="413.5" stroke="#1c1c1c" stroke-width="0.7"/>
<line x1="274.3" y1="439.55625" x2="274.3" y2="454.55625" stroke="#1c1c1c" stroke-width="0.7"/>
<line x1="272.7" y1="439.55625" x2="275.90000000000003" y2="439.55625" stroke="#1c1c1c" stroke-width="0.7"/>
<line x1="272.7" y1="454.55625" x2="275.90000000000003" y2="454.55625" stroke="#1c1c1c" stroke-width="0.7"/>
<line x1="280.3" y1="442.5375" x2="280.3" y2="453.5375" stroke="#1c1c1c" stroke-width="0.7"/>
<line x1="278.7" y1="442.5375" x2="281.90000000000003" y2="442.5375" stroke="#1c1c1c" stroke-width="0.7"/>
<line x1="278.7" y1="453.5375" x2="281.90000000000003" y2="453.5375" stroke="#1c1c1c" stroke-width="0.7"/>
<line x1="286.3" y1="512.9325" x2="286.3" y2="535.4325" stroke="#1c1c1c" stroke-width="0.7"/>
<line x1="284.7" y1="512.9325" x2="287.90000000000003" y2="512.9325" stroke="#1c1c1c" stroke-width="0.7"/>
<text x="285.5" y="514.25" font-size="15.5" font-weight="normal" font-style="normal" text-anchor="middle" fill="#000" stroke="#000" stroke-width="0.3">*</text>
<rect x="297.10" y="410.75" width="6.00" height="196.25" fill="#fff" stroke="#333" stroke-width="0.8"/>
<rect x="303.10" y="448.04" width="6.00" height="158.96" fill="#bababa" stroke="#6a6a6a" stroke-width="0.8"/>
<rect x="309.10" y="449.02" width="6.00" height="157.98" fill="#7b7b7b" stroke="#444" stroke-width="0.8"/>
<rect x="315.10" y="568.73" width="6.00" height="38.27" fill="#242424" stroke="#1a1a1a" stroke-width="0.8"/>
<line x1="300.1" y1="397.25" x2="300.1" y2="424.25" stroke="#1c1c1c" stroke-width="0.7"/>
<line x1="298.5" y1="397.25" x2="301.70000000000005" y2="397.25" stroke="#1c1c1c" stroke-width="0.7"/>
<line x1="298.5" y1="424.25" x2="301.70000000000005" y2="424.25" stroke="#1c1c1c" stroke-width="0.7"/>
<line x1="306.1" y1="439.0375" x2="306.1" y2="457.0375" stroke="#1c1c1c" stroke-width="0.7"/>
<line x1="304.5" y1="439.0375" x2="307.70000000000005" y2="439.0375" stroke="#1c1c1c" stroke-width="0.7"/>
<line x1="304.5" y1="457.0375" x2="307.70000000000005" y2="457.0375" stroke="#1c1c1c" stroke-width="0.7"/>
<line x1="312.1" y1="447.26875" x2="312.1" y2="450.76875" stroke="#1c1c1c" stroke-width="0.7"/>
<line x1="310.5" y1="447.26875" x2="313.70000000000005" y2="447.26875" stroke="#1c1c1c" stroke-width="0.7"/>
<line x1="310.5" y1="450.76875" x2="313.70000000000005" y2="450.76875" stroke="#1c1c1c" stroke-width="0.7"/>
<line x1="318.1" y1="560.73125" x2="318.1" y2="576.73125" stroke="#1c1c1c" stroke-width="0.7"/>
<line x1="316.5" y1="560.73125" x2="319.70000000000005" y2="560.73125" stroke="#1c1c1c" stroke-width="0.7"/>
<text x="317" y="553.0" font-size="15.5" font-weight="normal" font-style="normal" text-anchor="middle" fill="#000" stroke="#000" stroke-width="0.3">*</text>
<text x="317" y="561.25" font-size="15.5" font-weight="normal" font-style="normal" text-anchor="middle" fill="#000" stroke="#000" stroke-width="0.3">*</text>
<rect x="328.60" y="410.75" width="6.00" height="196.25" fill="#fff" stroke="#333" stroke-width="0.8"/>
<rect x="334.60" y="434.30" width="6.00" height="172.70" fill="#bababa" stroke="#6a6a6a" stroke-width="0.8"/>
<rect x="340.60" y="440.19" width="6.00" height="166.81" fill="#7b7b7b" stroke="#444" stroke-width="0.8"/>
<rect x="346.60" y="558.92" width="6.00" height="48.08" fill="#242424" stroke="#1a1a1a" stroke-width="0.8"/>
<line x1="331.6" y1="408.0" x2="331.6" y2="413.5" stroke="#1c1c1c" stroke-width="0.7"/>
<line x1="330.0" y1="408.0" x2="333.20000000000005" y2="408.0" stroke="#1c1c1c" stroke-width="0.7"/>
<line x1="330.0" y1="413.5" x2="333.20000000000005" y2="413.5" stroke="#1c1c1c" stroke-width="0.7"/>
<line x1="337.6" y1="422.3" x2="337.6" y2="446.3" stroke="#1c1c1c" stroke-width="0.7"/>
<line x1="336.0" y1="422.3" x2="339.20000000000005" y2="422.3" stroke="#1c1c1c" stroke-width="0.7"/>
<line x1="336.0" y1="446.3" x2="339.20000000000005" y2="446.3" stroke="#1c1c1c" stroke-width="0.7"/>
<line x1="343.6" y1="418.6875" x2="343.6" y2="461.6875" stroke="#1c1c1c" stroke-width="0.7"/>
<line x1="342.0" y1="418.6875" x2="345.20000000000005" y2="418.6875" stroke="#1c1c1c" stroke-width="0.7"/>
<line x1="342.0" y1="461.6875" x2="345.20000000000005" y2="461.6875" stroke="#1c1c1c" stroke-width="0.7"/>
<line x1="349.6" y1="550.16875" x2="349.6" y2="567.66875" stroke="#1c1c1c" stroke-width="0.7"/>
<line x1="348.0" y1="550.16875" x2="351.20000000000005" y2="550.16875" stroke="#1c1c1c" stroke-width="0.7"/>
<text x="349.5" y="544.25" font-size="15.5" font-weight="normal" font-style="normal" text-anchor="middle" fill="#000" stroke="#000" stroke-width="0.3">*</text>
<text x="349.5" y="552.25" font-size="15.5" font-weight="normal" font-style="normal" text-anchor="middle" fill="#000" stroke="#000" stroke-width="0.3">*</text>
<rect x="360.50" y="410.75" width="6.00" height="196.25" fill="#fff" stroke="#333" stroke-width="0.8"/>
<rect x="366.50" y="440.19" width="6.00" height="166.81" fill="#bababa" stroke="#6a6a6a" stroke-width="0.8"/>
<rect x="372.50" y="438.23" width="6.00" height="168.77" fill="#7b7b7b" stroke="#444" stroke-width="0.8"/>
<rect x="378.50" y="463.74" width="6.00" height="143.26" fill="#242424" stroke="#1a1a1a" stroke-width="0.8"/>
<line x1="363.5" y1="403.25" x2="363.5" y2="418.25" stroke="#1c1c1c" stroke-width="0.7"/>
<line x1="361.9" y1="403.25" x2="365.1" y2="403.25" stroke="#1c1c1c" stroke-width="0.7"/>
<line x1="361.9" y1="418.25" x2="365.1" y2="418.25" stroke="#1c1c1c" stroke-width="0.7"/>
<line x1="369.5" y1="431.6875" x2="369.5" y2="448.6875" stroke="#1c1c1c" stroke-width="0.7"/>
<line x1="367.9" y1="431.6875" x2="371.1" y2="431.6875" stroke="#1c1c1c" stroke-width="0.7"/>
<line x1="367.9" y1="448.6875" x2="371.1" y2="448.6875" stroke="#1c1c1c" stroke-width="0.7"/>
<line x1="375.5" y1="432.975" x2="375.5" y2="443.475" stroke="#1c1c1c" stroke-width="0.7"/>
<line x1="373.9" y1="432.975" x2="377.1" y2="432.975" stroke="#1c1c1c" stroke-width="0.7"/>
<line x1="373.9" y1="443.475" x2="377.1" y2="443.475" stroke="#1c1c1c" stroke-width="0.7"/>
<line x1="381.5" y1="433.2375" x2="381.5" y2="494.2375" stroke="#1c1c1c" stroke-width="0.7"/>
<line x1="379.9" y1="433.2375" x2="383.1" y2="433.2375" stroke="#1c1c1c" stroke-width="0.7"/>
<rect x="392.45" y="410.75" width="6.00" height="196.25" fill="#fff" stroke="#333" stroke-width="0.8"/>
<rect x="398.45" y="420.56" width="6.00" height="186.44" fill="#bababa" stroke="#6a6a6a" stroke-width="0.8"/>
<rect x="404.45" y="436.26" width="6.00" height="170.74" fill="#7b7b7b" stroke="#444" stroke-width="0.8"/>
<rect x="410.45" y="449.02" width="6.00" height="157.98" fill="#242424" stroke="#1a1a1a" stroke-width="0.8"/>
<line x1="395.45" y1="393.5" x2="395.45" y2="428.0" stroke="#1c1c1c" stroke-width="0.7"/>
<line x1="393.84999999999997" y1="393.5" x2="397.05" y2="393.5" stroke="#1c1c1c" stroke-width="0.7"/>
<line x1="393.84999999999997" y1="428.0" x2="397.05" y2="428.0" stroke="#1c1c1c" stroke-width="0.7"/>
<line x1="401.45" y1="410.1625" x2="401.45" y2="430.9625" stroke="#1c1c1c" stroke-width="0.7"/>
<line x1="399.84999999999997" y1="410.1625" x2="403.05" y2="410.1625" stroke="#1c1c1c" stroke-width="0.7"/>
<line x1="399.84999999999997" y1="430.9625" x2="403.05" y2="430.9625" stroke="#1c1c1c" stroke-width="0.7"/>
<line x1="407.45" y1="427.2625" x2="407.45" y2="445.2625" stroke="#1c1c1c" stroke-width="0.7"/>
<line x1="405.84999999999997" y1="427.2625" x2="409.05" y2="427.2625" stroke="#1c1c1c" stroke-width="0.7"/>
<line x1="405.84999999999997" y1="445.2625" x2="409.05" y2="445.2625" stroke="#1c1c1c" stroke-width="0.7"/>
<line x1="413.45" y1="438.51875" x2="413.45" y2="459.51875" stroke="#1c1c1c" stroke-width="0.7"/>
<line x1="411.84999999999997" y1="438.51875" x2="415.05" y2="438.51875" stroke="#1c1c1c" stroke-width="0.7"/>
<rect x="424.35" y="410.75" width="6.00" height="196.25" fill="#fff" stroke="#333" stroke-width="0.8"/>
<rect x="430.35" y="456.87" width="6.00" height="150.13" fill="#bababa" stroke="#6a6a6a" stroke-width="0.8"/>
<rect x="436.35" y="436.26" width="6.00" height="170.74" fill="#7b7b7b" stroke="#444" stroke-width="0.8"/>
<rect x="442.35" y="509.86" width="6.00" height="97.14" fill="#242424" stroke="#1a1a1a" stroke-width="0.8"/>
<line x1="427.35" y1="402.75" x2="427.35" y2="418.75" stroke="#1c1c1c" stroke-width="0.7"/>
<line x1="425.75" y1="402.75" x2="428.95000000000005" y2="402.75" stroke="#1c1c1c" stroke-width="0.7"/>
<line x1="425.75" y1="418.75" x2="428.95000000000005" y2="418.75" stroke="#1c1c1c" stroke-width="0.7"/>
<line x1="433.35" y1="450.26874999999995" x2="433.35" y2="463.46875" stroke="#1c1c1c" stroke-width="0.7"/>
<line x1="431.75" y1="450.26874999999995" x2="434.95000000000005" y2="450.26874999999995" stroke="#1c1c1c" stroke-width="0.7"/>
<line x1="431.75" y1="463.46875" x2="434.95000000000005" y2="463.46875" stroke="#1c1c1c" stroke-width="0.7"/>
<line x1="439.35" y1="428.5125" x2="439.35" y2="444.0125" stroke="#1c1c1c" stroke-width="0.7"/>
<line x1="437.75" y1="428.5125" x2="440.95000000000005" y2="428.5125" stroke="#1c1c1c" stroke-width="0.7"/>
<line x1="437.75" y1="444.0125" x2="440.95000000000005" y2="444.0125" stroke="#1c1c1c" stroke-width="0.7"/>
<line x1="445.35" y1="496.10625" x2="445.35" y2="523.60625" stroke="#1c1c1c" stroke-width="0.7"/>
<line x1="443.75" y1="496.10625" x2="446.95000000000005" y2="496.10625" stroke="#1c1c1c" stroke-width="0.7"/>
<text x="445" y="491.15" font-size="15.5" font-weight="normal" font-style="normal" text-anchor="middle" fill="#000" stroke="#000" stroke-width="0.3">*</text>
<text x="445" y="498.75" font-size="15.5" font-weight="normal" font-style="normal" text-anchor="middle" fill="#000" stroke="#000" stroke-width="0.3">*</text>
<text transform="translate(83.45,631.80) rotate(-56)" font-size="11.8" font-weight="bold" text-anchor="end" stroke="#000" stroke-width="0.25">#62</text>
<text transform="translate(114.70,626.05) rotate(-56)" font-size="11.8" font-weight="bold" text-anchor="end" stroke="#000" stroke-width="0.25">#383</text>
<text transform="translate(149.20,626.05) rotate(-56)" font-size="11.8" font-weight="bold" text-anchor="end" stroke="#000" stroke-width="0.25">#586</text>
<text transform="translate(178.45,626.05) rotate(-56)" font-size="11.8" font-weight="bold" text-anchor="end" stroke="#000" stroke-width="0.25">#834</text>
<text transform="translate(215.95,626.05) rotate(-56)" font-size="11.8" font-weight="bold" text-anchor="end" stroke="#000" stroke-width="0.25">#845</text>
<text transform="translate(246.70,626.05) rotate(-56)" font-size="11.8" font-weight="bold" text-anchor="end" stroke="#000" stroke-width="0.25">#852</text>
<text transform="translate(275.95,620.30) rotate(-56)" font-size="11.8" font-weight="bold" text-anchor="end" stroke="#000" stroke-width="0.25">#1000</text>
<text transform="translate(311.70,618.55) rotate(-56)" font-size="11.8" font-weight="bold" text-anchor="end" stroke="#000" stroke-width="0.25">#1067</text>
<text transform="translate(348.45,617.80) rotate(-56)" font-size="11.8" font-weight="bold" text-anchor="end" stroke="#000" stroke-width="0.25">#1276</text>
<text transform="translate(379.70,618.55) rotate(-56)" font-size="11.8" font-weight="bold" text-anchor="end" stroke="#000" stroke-width="0.25">#1420</text>
<text transform="translate(407.70,616.40) rotate(-56)" font-size="11.8" font-weight="bold" text-anchor="end" stroke="#000" stroke-width="0.25">#1953</text>
<text transform="translate(439.70,616.40) rotate(-56)" font-size="11.8" font-weight="bold" text-anchor="end" stroke="#000" stroke-width="0.25">#2299</text>
<rect x="459.25" y="514.00" width="13.25" height="12.60" fill="#fff" stroke="#333" stroke-width="0.9"/>
<rect x="459.25" y="531.00" width="13.25" height="12.60" fill="#bababa" stroke="#444" stroke-width="0.9"/>
<rect x="459.25" y="548.25" width="13.25" height="12.60" fill="#808080" stroke="#333" stroke-width="0.9"/>
<rect x="459.25" y="564.75" width="13.25" height="12.60" fill="#000" stroke="#000" stroke-width="0.9"/>
<text x="479.3" y="521.6" font-size="11.8" font-weight="bold" font-style="italic" text-anchor="start" fill="#000">-</text>
<text x="478.6" y="542" font-size="11.8" font-weight="bold" font-style="italic" text-anchor="start" fill="#000">IM</text>
<text x="478.6" y="559" font-size="11.8" font-weight="bold" font-style="italic" text-anchor="start" fill="#000">IFN</text>
<text x="478.6" y="574.5" font-size="11.8" font-weight="bold" font-style="italic" text-anchor="start" fill="#000">IM/IFN</text>
<text x="6.2" y="361.2" font-size="17" font-weight="bold" font-style="normal" text-anchor="start" fill="#000">D</text>
</svg></body></html>
